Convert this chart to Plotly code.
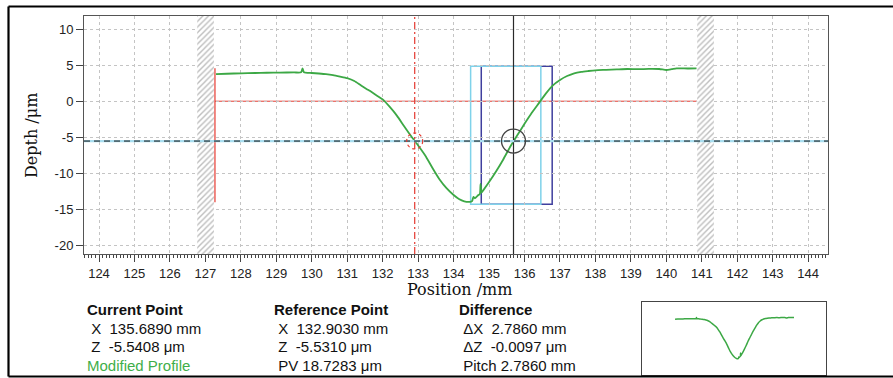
import plotly.graph_objects as go

# ---------------- data ----------------
profile_x = [127.30, 127.60, 128.00, 128.40, 128.73, 129.10, 129.50, 129.70, 129.74, 129.78,
             130.00, 130.20, 130.40, 130.60, 130.80, 131.00, 131.20, 131.40, 131.60, 131.80,
             132.00, 132.20, 132.40, 132.60, 132.80, 133.00, 133.20, 133.40, 133.60, 133.80,
             134.00, 134.15, 134.30, 134.45, 134.52, 134.56, 134.60, 134.70, 134.74, 134.76,
             134.79, 134.85, 135.00, 135.20, 135.40, 135.60, 135.80, 136.00, 136.20, 136.40,
             136.60, 136.80, 137.00, 137.20, 137.40, 137.60, 137.80, 138.00, 138.30, 138.60,
             138.90, 139.20, 139.50, 139.80, 140.00, 140.15, 140.29, 140.60, 140.85]
profile_z = [3.78, 3.82, 3.88, 3.92, 3.96, 3.98, 4.00, 4.02, 4.57, 4.02,
             3.92, 3.85, 3.76, 3.62, 3.42, 3.20, 2.80, 2.15, 1.55, 0.90,
             0.25, -0.80, -2.00, -3.45, -4.85, -6.15, -7.55, -9.25, -10.85, -12.10,
             -13.05, -13.60, -13.92, -14.00, -13.90, -13.30, -13.50, -13.05, -12.90, -11.50,
             -12.70, -12.30, -11.25, -9.75, -8.10, -6.30, -4.70, -3.15, -1.65, -0.30,
             1.05, 2.20, 2.95, 3.50, 3.88, 4.08, 4.20, 4.30, 4.36, 4.42,
             4.48, 4.45, 4.50, 4.48, 4.34, 4.45, 4.57, 4.55, 4.57]

x_ticks = list(range(124, 145))
y_ticks = [10, 5, 0, -5, -10, -15, -20]
y_tick_labels = ["10", "5", "0", "-5", "-10", "-15", "-20"]
y_minor_ticks = list(range(-21, 12))

current_x = 135.6890
current_z = -5.5408
reference_x = 132.9030
reference_z = -5.5310
mask_left = [126.77, 127.24]
mask_right = [140.87, 141.34]
level_x = [127.27, 140.87]
level_z = 0.0
level_bar = [-14.06, 4.57]
box_cyan_x = [134.48, 136.46]
box_blue_x = [134.78, 136.78]
box_z = [-14.34, 4.85]

x_range = [123.577, 144.558]
y_range = [-21.25, 11.85]

info_current = ["<b>Current Point</b>", "\u00a0X\u00a0 135.6890 mm", "\u00a0Z\u00a0 -5.5408 μm", "Modified Profile"]
info_reference = ["<b>Reference Point</b>", "\u00a0X\u00a0 132.9030 mm", "\u00a0Z\u00a0 -5.5310 μm", "\u00a0PV 18.7283 μm"]
info_difference = ["<b>Difference</b>", "\u00a0ΔX\u00a0 2.7860 mm", "\u00a0ΔZ\u00a0 -0.0097 μm", "\u00a0Pitch 2.7860 mm"]

# ---------------- styling ----------------
W, H = 893, 378
GREEN = "#3ca845"
RED = "#e5392f"
CYAN = "#7fd2ea"
NAVY = "#3f3f9e"

def px_x(p):
    return p / W

def px_y(p):
    return 1 - p / H

fig = go.Figure()

for zone in (mask_left, mask_right):
    fig.add_trace(go.Scatter(
        x=[zone[0], zone[1], zone[1], zone[0], zone[0]],
        y=[y_range[0], y_range[0], y_range[1], y_range[1], y_range[0]],
        mode="lines", fill="toself",
        line=dict(width=0, color="rgba(0,0,0,0)"),
        fillcolor="rgba(0,0,0,0)",
        fillpattern=dict(shape="/", fgcolor="#7c7c7c", bgcolor="white", size=4, solidity=0.35),
        hoverinfo="skip", showlegend=False,
    ))

fig.add_trace(go.Scatter(x=profile_x, y=profile_z, mode="lines",
                         line=dict(color=GREEN, width=1.8, shape="spline", smoothing=0.6), showlegend=False))

fig.add_trace(go.Scatter(x=profile_x, y=profile_z, mode="lines", xaxis="x2", yaxis="y2",
                         line=dict(color=GREEN, width=1.5, shape="spline", smoothing=0.6), showlegend=False))

shapes = []
shapes.append(dict(type="line", xref="x", yref="y", x0=level_x[0], x1=level_x[1], y0=level_z, y1=level_z,
                   line=dict(color=RED, width=1), layer="below"))
shapes.append(dict(type="line", xref="x", yref="y", x0=level_x[0], x1=level_x[0], y0=level_bar[0], y1=level_bar[1],
                   line=dict(color=RED, width=1.2), layer="above"))
shapes.append(dict(type="rect", xref="x", yref="y", x0=box_blue_x[0], x1=box_blue_x[1], y0=box_z[0], y1=box_z[1],
                   line=dict(color=NAVY, width=1.5), layer="below"))
shapes.append(dict(type="rect", xref="x", yref="y", x0=box_cyan_x[0], x1=box_cyan_x[1], y0=box_z[0], y1=box_z[1],
                   line=dict(color=CYAN, width=1.5), layer="below"))
shapes.append(dict(type="line", xref="x", yref="paper", x0=reference_x, x1=reference_x,
                   y0=px_y(254), y1=px_y(16),
                   line=dict(color=RED, width=1.2, dash="7px,3px,2px,3px"), layer="above"))
shapes.append(dict(type="line", xref="x", yref="paper", x0=current_x, x1=current_x,
                   y0=px_y(254), y1=px_y(16),
                   line=dict(color="#2a2a2a", width=1.2), layer="above"))
shapes.append(dict(type="line", xref="paper", yref="y", x0=px_x(84), x1=px_x(828), y0=current_z, y1=current_z,
                   line=dict(color="#a9ddef", width=2.2), layer="above"))
shapes.append(dict(type="line", xref="paper", yref="y", x0=px_x(84), x1=px_x(828), y0=current_z, y1=current_z,
                   line=dict(color="#111111", width=1, dash="6px,4px"), layer="above"))
shapes.append(dict(type="circle", xref="x", yref="y", xsizemode="pixel", ysizemode="pixel",
                   xanchor=current_x, yanchor=current_z, x0=-12, x1=12, y0=-12, y1=12,
                   line=dict(color="#444444", width=1.3), layer="above"))
shapes.append(dict(type="circle", xref="x", yref="y", xsizemode="pixel", ysizemode="pixel",
                   xanchor=reference_x, yanchor=reference_z, x0=-8, x1=8, y0=-8, y1=8,
                   line=dict(color=RED, width=1.2, dash="3px,3px"), layer="above"))
for (x0, y0, x1, y1) in [(8.5, 6.5, 893, 6.5), (8.5, 376.5, 893, 376.5), (8.5, 6.5, 8.5, 376.5)]:
    shapes.append(dict(type="line", xref="paper", yref="paper", x0=px_x(x0), x1=px_x(x1),
                       y0=px_y(y0), y1=px_y(y1), line=dict(color="#000000", width=2.2), layer="above"))

annotations = []
serif = dict(family="DejaVu Serif", size=16, color="#111111")
annotations.append(dict(text="Position /mm", xref="paper", yref="paper", x=px_x(459.5), y=px_y(289),
                        xanchor="center", yanchor="middle", showarrow=False, font=serif))
annotations.append(dict(text="Depth /μm", xref="paper", yref="paper", x=px_x(31.5), y=px_y(135.5),
                        xanchor="center", yanchor="middle", showarrow=False, font=serif, textangle=-90))

row_y = [309, 328, 346.5, 365.5]
sans = dict(family="Liberation Sans, Arial", size=15, color="#111111")
for col_x, rows in [(85, info_current), (272, info_reference), (457, info_difference)]:
    for i, (txt, yy) in enumerate(zip(rows, row_y)):
        f = dict(sans)
        if rows is info_current and i == 3:
            f["color"] = "#3fae49"
        annotations.append(dict(text=txt, xref="paper", yref="paper", x=px_x(col_x), y=px_y(yy),
                                xanchor="left", yanchor="middle", showarrow=False, font=f))

tickfont = dict(family="Liberation Sans, Arial", size=13, color="#222222")
y_dom = [px_y(254), px_y(16)]

fig.update_layout(
    width=W, height=H, autosize=False,
    margin=dict(l=0, r=0, t=0, b=0),
    paper_bgcolor="white", plot_bgcolor="white",
    showlegend=False,
    shapes=shapes, annotations=annotations,
    xaxis=dict(domain=[px_x(84), px_x(828)], range=x_range, tickmode="array", tickvals=x_ticks,
               ticks="outside", ticklen=7, tickwidth=1, tickcolor="#444444",
               showline=True, linecolor="#555555", linewidth=1, mirror=True,
               showgrid=True, gridcolor="#c4c4c4", griddash="dot", gridwidth=1,
               zeroline=False, tickfont=tickfont,
               minor=dict(dtick=0.1, tick0=124, ticks="outside", ticklen=3, tickcolor="#444444", showgrid=False)),
    yaxis=dict(domain=y_dom, range=y_range, tickmode="array", tickvals=y_ticks, ticktext=y_tick_labels,
               ticks="outside", ticklen=7, tickwidth=1, tickcolor="#444444",
               showline=True, linecolor="#555555", linewidth=1, mirror=True,
               showgrid=True, gridcolor="#c4c4c4", griddash="dot", gridwidth=1,
               zeroline=False, tickfont=tickfont),
    yaxis3=dict(domain=y_dom, range=y_range, overlaying="y", anchor="x", side="left",
                tickmode="array", tickvals=y_minor_ticks, showticklabels=False,
                ticks="outside", ticklen=4, tickwidth=1, tickcolor="#444444",
                showgrid=False, zeroline=False, showline=False),
    xaxis2=dict(domain=[px_x(641.7), px_x(825.7)], range=[123.5, 144.46], anchor="y2",
                showticklabels=False, ticks="", showgrid=False, zeroline=False,
                showline=True, linecolor="#444444", linewidth=1.2, mirror=True),
    yaxis2=dict(domain=[px_y(375.3), px_y(302)], range=[-21.5, 11.5], anchor="x2",
                showticklabels=False, ticks="", showgrid=False, zeroline=False,
                showline=True, linecolor="#444444", linewidth=1.2, mirror=True),
)

fig.write_html("out.html")
